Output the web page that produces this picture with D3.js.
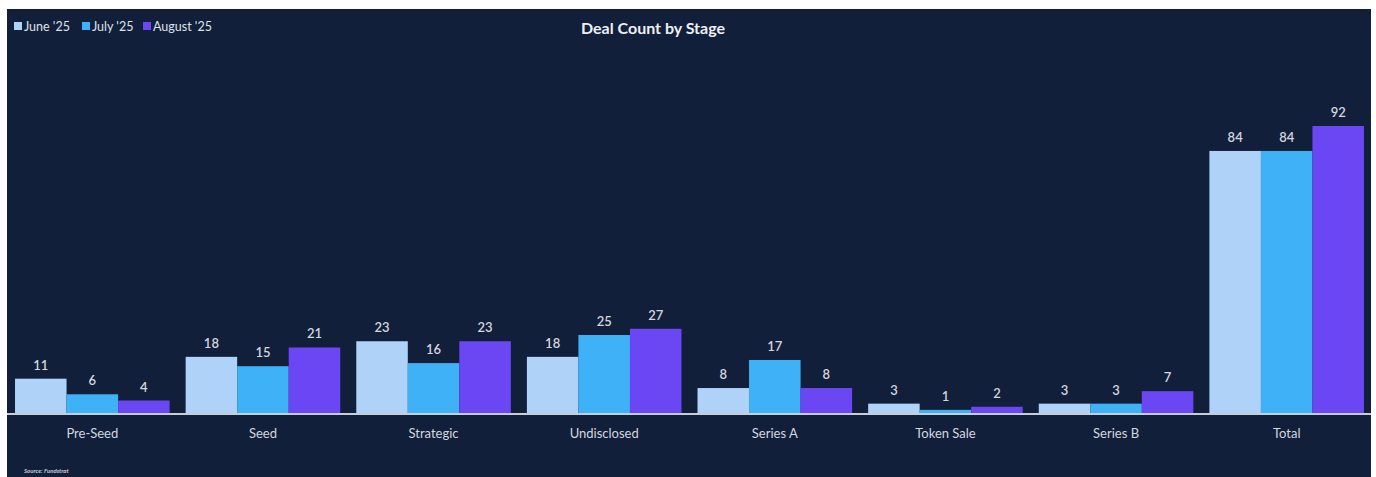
<!DOCTYPE html>
<meta charset="utf-8">
<script src="https://d3js.org/d3.v7.min.js"></script>
<style>
  body { margin: 0; background: #fff; }
  text { font-family: Lato, "Open Sans", sans-serif; }
</style>
<div id="chart"></div>
<script>
    const stages = ["Pre-Seed", "Seed", "Strategic", "Undisclosed", "Series A", "Token Sale", "Series B", "Total"];
    const months = ["June '25", "July '25", "August '25"];
    const june = [11, 18, 23, 18, 8, 3, 3, 84];
    const july = [6, 15, 16, 25, 17, 1, 3, 84];
    const august = [4, 21, 23, 27, 8, 2, 7, 92];
    const colors = ["#aed2f8", "#3fb1f6", "#6b47f3"];

    const W = 1376, H = 477;
    const svg = d3.select("#chart").append("svg")
        .attr("width", W)
        .attr("height", H);

    svg.append("rect")
        .attr("x", 7).attr("y", 9)
        .attr("width", 1364).attr("height", H - 9)
        .attr("fill", "#121f3b");

    const series = [june, july, august];
    const rows = stages.map((s, i) => ({stage: s, vals: series.map(v => v[i])}));

    const x = d3.scaleBand()
        .domain(stages)
        .range([7, 1372])
        .paddingInner(0.094)
        .paddingOuter(0.047);
    const xm = d3.scaleBand()
        .domain(d3.range(months.length))
        .range([0, x.bandwidth()]);
    const y = d3.scaleLinear()
        .domain([0, 92])
        .range([413, 126]);

    const g = svg.selectAll(".grp")
        .data(rows)
        .join("g")
        .attr("transform", d => `translate(${x(d.stage)},0)`);

    g.selectAll("rect")
        .data(d => d.vals)
        .join("rect")
        .attr("x", (d, i) => xm(i))
        .attr("width", xm.bandwidth())
        .attr("y", d => y(d))
        .attr("height", d => y(0) - y(d))
        .attr("fill", (d, i) => colors[i]);

    g.selectAll(".val")
        .data(d => d.vals)
        .join("text")
        .attr("x", (d, i) => xm(i) + xm.bandwidth() / 2)
        .attr("y", d => y(d) - 9)
        .attr("text-anchor", "middle")
        .attr("fill", "#d3d7df")
        .attr("font-size", 13)
        .attr("font-weight", 600)
        .text(d => d);

    // baseline
    svg.append("line")
        .attr("x1", 7).attr("x2", 1371)
        .attr("y1", 414).attr("y2", 414)
        .attr("stroke", "#c9cdd6")
        .attr("stroke-width", 2);

    const ax = svg.append("g")
        .attr("transform", `translate(0,414)`)
        .call(d3.axisBottom(x).tickSize(0).tickPadding(15));
    ax.select(".domain").remove();
    ax.selectAll("text")
        .attr("fill", "#d3d7df")
        .attr("font-size", 13)
        .style("font-family", "Lato, 'Open Sans', sans-serif");

    svg.append("text")
        .attr("x", 653).attr("y", 34)
        .attr("text-anchor", "middle")
        .attr("fill", "#eef0f4")
        .attr("font-size", 16)
        .attr("font-weight", "bold")
        .text("Deal Count by Stage");

    // legend
    const legX = [14, 82, 143];
    const leg = svg.selectAll(".leg")
        .data(months)
        .join("g")
        .attr("transform", (d, i) => `translate(${legX[i]},22)`);
    leg.append("rect")
        .attr("width", 8).attr("height", 8)
        .attr("fill", (d, i) => colors[i]);
    leg.append("text")
        .attr("x", 10).attr("y", 8.5)
        .attr("fill", "#dfe2e8")
        .attr("font-size", 12.5)
        .text(d => d);

    svg.append("text")
        .attr("x", 24).attr("y", 473)
        .attr("fill", "#c9cdd6")
        .attr("font-size", 6)
        .attr("font-style", "italic")
        .attr("font-weight", "bold")
        .text("Source: Fundstrat");
</script>
